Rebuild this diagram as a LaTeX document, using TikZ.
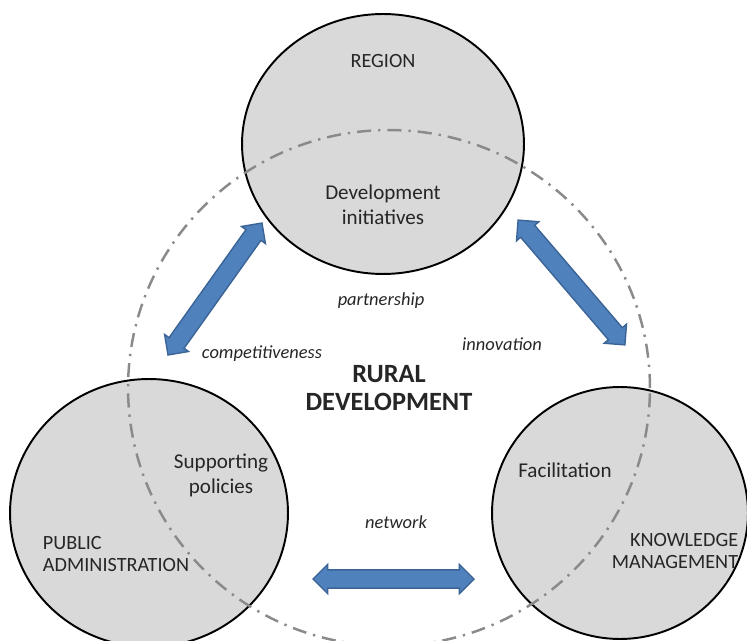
\documentclass[tikz,border=0pt]{standalone}
\usepackage{fontspec}
\setmainfont{Carlito}
\usetikzlibrary{positioning}
\usetikzlibrary{calc}
\usetikzlibrary{shapes.geometric}
\usetikzlibrary{shapes.arrows}

\definecolor{discgray}{HTML}{D9D9D9}
\definecolor{ringgray}{HTML}{8A8A8A}
\definecolor{arrowblue}{HTML}{4F81BD}
\definecolor{arrowedge}{HTML}{3B6496}
\definecolor{textgray}{HTML}{262626}

% block arrow between two named points
\newcommand{\linkarrow}[3]{%
	\path let \p1=($(#3)-(#2)$), \n1={atan2(\y1,\x1)}, \n2={veclen(\x1,\y1)} in
		node[link, minimum height=\n2, rotate=\n1] (#1) at ($(#2)!0.5!(#3)$) {};}

\begin{document}
\begin{tikzpicture}
		[x=0.02cm, y=-0.02cm, text=textgray,
		disc/.style={ellipse, draw=black, line width=1.1pt, fill=discgray, inner sep=0pt},
		ring/.style={ellipse, draw=ringgray, line width=1.4pt, dash pattern=on 8pt off 4pt on 1.3pt off 4pt, inner sep=0pt},
		caps/.style={font=\fontsize{11.5}{13}\selectfont, align=center},
		plain/.style={font=\fontsize{12}{14.2}\selectfont, align=center},
		tie/.style={font=\fontsize{10.5}{12}\selectfont\itshape},
		link/.style={double arrow, fill=arrowblue, draw=arrowedge, line width=0.8pt, inner sep=0.17cm, double arrow head extend=0.11cm}]
		\useasboundingbox (0,0) rectangle (747,641);

		\node[disc, minimum width=5.64cm, minimum height=5.2cm] (region) at (383,144) {};
		\node[disc, minimum width=5.56cm, minimum height=5.36cm] (public) at (149,513) {};
		\node[disc, minimum width=5.12cm, minimum height=5.04cm] (know) at (620,513) {};
		\node[ring, minimum width=10.44cm, minimum height=10.32cm, font=\bfseries\fontsize{15}{16}\selectfont, align=center] (rural) at (389,388) {RURAL\\DEVELOPMENT};

		\node[caps] (regname) at (383,61) {REGION};
		\node[plain] (regtask) at (383,205) {Development\\initiatives};
		\node[plain] (pubtask) at (221,475) {Supporting\\policies};
		\node[caps, align=left] (pubname) at (116,554) {PUBLIC\\ADMINISTRATION};
		\node[plain] (knowtask) at (565,470) {Facilitation};
		\node[caps, align=right] (knowname) at (675,551) {KNOWLEDGE\\MANAGEMENT};

		\node[tie] (partner) at (381,301) {partnership};
		\node[tie] (compet) at (262,354) {competitiveness};
		\node[tie] (innov) at (502,344) {innovation};
		\node[tie] (netw) at (396,522) {network};

		\coordinate (regionL) at (262,223);
		\coordinate (publicT) at (168,355);
		\coordinate (regionR) at (518,220);
		\coordinate (knowT) at (625,345);
		\coordinate (publicR) at (313,579);
		\coordinate (knowL) at (474,579);

		\linkarrow{compArrow}{publicT}{regionL}
		\linkarrow{innoArrow}{regionR}{knowT}
		\linkarrow{netArrow}{publicR}{knowL}
	\end{tikzpicture}
\end{document}
